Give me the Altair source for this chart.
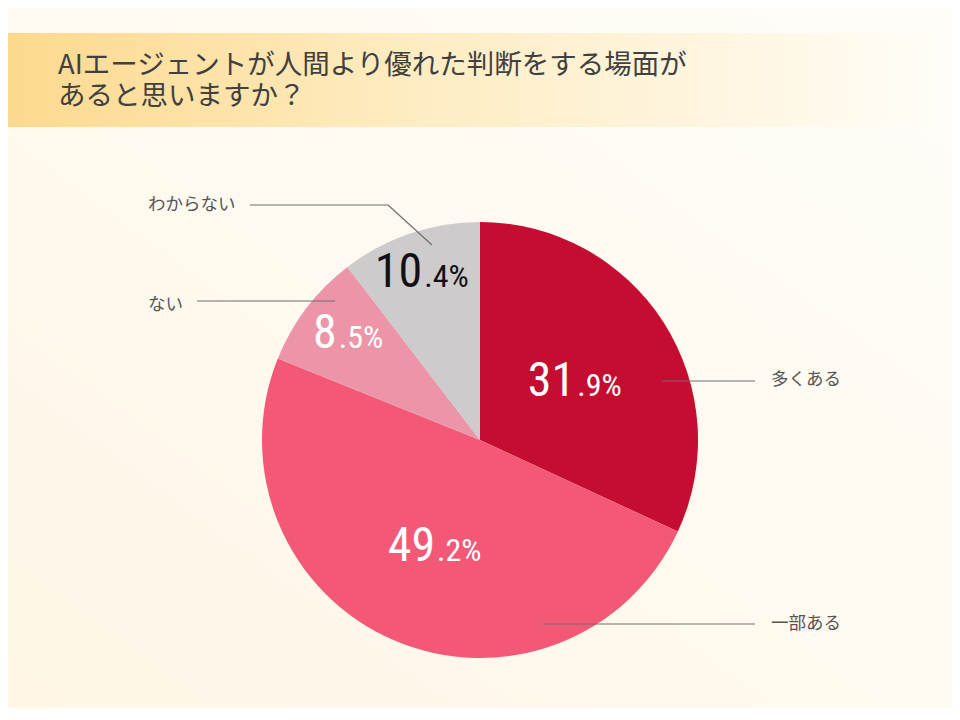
import altair as alt
import pandas as pd

# survey result
categories = ["多くある", "一部ある", "ない", "わからない"]
percents = [31.9, 49.2, 8.5, 10.4]
slice_colors = ["#c40d31", "#f45877", "#ec95a9", "#cdcbcc"]

title_lines = ["AIエージェントが人間より優れた判断をする場面が", "あると思いますか？"]

JP = "Noto Sans CJK JP"
NUM = "Liberation Sans Narrow, Roboto Condensed, Roboto, sans-serif"

W, H = 944, 700
M = 8  # page margin, layout below is in page pixels


def px(v):
    return v - M


# callout layout (page pixels)
label_pos = {
    "多くある": (771, 380),
    "一部ある": (771, 624),
    "ない": (148, 305),
    "わからない": (148, 205),
}
leader_segments = [
    (662, 381, 755, 381),
    (543, 624, 755, 624),
    (197, 301, 335, 301),
    (250, 205, 388, 205),
    (388, 205, 432, 245),
]
cx, cy, R = px(480), px(440), 218

df = pd.DataFrame({
    "idx": range(len(categories)),
    "category": categories,
    "share": percents,
})
df["big"] = [str(p).split(".")[0] for p in percents]
df["small"] = ["." + str(p).split(".")[1] + "%" for p in percents]

one = pd.DataFrame({"a": [0]})

# background and title banner
bg = alt.Chart(one).mark_rect(
    color=alt.LinearGradient(
        gradient="linear", x1=0, y1=1, x2=1, y2=0,
        stops=[alt.GradientStop(color="#fff6e6", offset=0),
               alt.GradientStop(color="#fffdf9", offset=1)],
    )
).encode(x=alt.value(0), x2=alt.value(W), y=alt.value(0), y2=alt.value(H))

banner = alt.Chart(one).mark_rect(
    color=alt.LinearGradient(
        gradient="linear", x1=0, y1=0, x2=1, y2=0,
        stops=[alt.GradientStop(color="#fdd98e", offset=0),
               alt.GradientStop(color="#feedc4", offset=0.45),
               alt.GradientStop(color="#fffdf8", offset=1)],
    )
).encode(x=alt.value(0), x2=alt.value(W), y=alt.value(px(33)), y2=alt.value(px(127)))

title1 = alt.Chart(one).mark_text(
    text=title_lines[0], align="left", baseline="alphabetic",
    font=JP, fontSize=27.5, color="#404040"
).encode(x=alt.value(px(58)), y=alt.value(px(74)))

title2 = alt.Chart(one).mark_text(
    text=title_lines[1], align="left", baseline="alphabetic",
    font=JP, fontSize=27.5, color="#404040"
).encode(x=alt.value(px(58)), y=alt.value(px(105)))

# pie
pie = alt.Chart(df).mark_arc(radius=R, stroke=None).encode(
    theta=alt.Theta("share:Q", stack=True),
    order=alt.Order("idx:Q"),
    color=alt.Color("category:N", scale=alt.Scale(domain=categories, range=slice_colors), legend=None),
    x=alt.value(cx),
    y=alt.value(cy),
)

# figures sit at each slice's mid angle; small slices get them further out
value_fill = alt.condition(alt.datum.category == "わからない", alt.value("#111111"), alt.value("#ffffff"))

labelled = alt.Chart(df).transform_window(
    cum="sum(share)", sort=[alt.SortField("idx")]
).transform_calculate(
    mid="datum.cum - datum.share / 2",
    lr="datum.share > 20 ? 113 : 180",
).encode(
    theta=alt.Theta("mid:Q", stack=None),
    radius=alt.Radius("lr:Q", scale=None),
    fill=value_fill,
    x=alt.value(cx),
    y=alt.value(cy),
)

pct_big = labelled.mark_text(
    align="right", baseline="alphabetic", dy=17, font=NUM, fontSize=48
).encode(text="big:N")

pct_small = labelled.mark_text(
    align="left", baseline="alphabetic", dx=2, dy=17, font=NUM, fontSize=32
).encode(text="small:N")

# leader lines and category labels
seg_df = pd.DataFrame(
    [(px(a), px(b), px(c), px(d)) for a, b, c, d in leader_segments],
    columns=["x1", "y1", "x2", "y2"],
)
leaders = alt.Chart(seg_df).mark_rule(color="#6f6f6f", strokeWidth=1.2).encode(
    x=alt.X("x1:Q", scale=None, axis=None),
    x2="x2:Q",
    y=alt.Y("y1:Q", scale=None, axis=None),
    y2="y2:Q",
)

lab_df = pd.DataFrame({
    "category": categories,
    "lx": [px(label_pos[c][0]) for c in categories],
    "ly": [px(label_pos[c][1]) for c in categories],
})
labels = alt.Chart(lab_df).mark_text(
    align="left", baseline="middle", font=JP, fontSize=17.5, color="#555555"
).encode(
    x=alt.X("lx:Q", scale=None, axis=None),
    y=alt.Y("ly:Q", scale=None, axis=None),
    text="category:N",
)

chart = alt.layer(
    bg, banner, title1, title2, pie, pct_big, pct_small, leaders, labels
).properties(
    width=W,
    height=H,
    autosize=alt.AutoSizeParams(type="none"),
    padding=0,
    background="#fffaf2",
).configure_view(stroke=None)

chart.save("out.html", embed_options={"renderer": "svg", "actions": False})
